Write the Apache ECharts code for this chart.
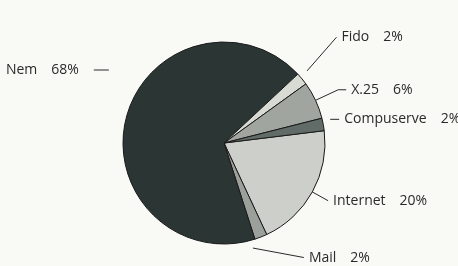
<!DOCTYPE html>
<html><head><meta charset="utf-8">
<script src="https://cdn.jsdelivr.net/npm/echarts@6/dist/echarts.min.js"></script>
<style>html,body{margin:0;padding:0;background:#f9f9f6}#c{width:458px;height:266px}</style>
</head><body><div id="c"></div>
<script>
// Data (clockwise from ~3 o'clock)
var categories = ['Internet', 'Mail', 'Nem', 'Fido', 'X.25', 'Compuserve'];
var values = [20, 2, 68, 2, 6, 2];

var colors = {
  'Internet': '#cdd0ca', 'Mail': '#9ba09a', 'Nem': '#2b3634',
  'Fido': '#d8dad4', 'X.25': '#a0a59f', 'Compuserve': '#616c68'
};
var lineCfg = {
  'Internet': [18, 0], 'Mail': [22, 35], 'Nem': [18, 15],
  'Fido': [42, 0], 'X.25': [25, 8], 'Compuserve': [6, 10]
};

var data = categories.map(function (n, i) {
  return {
    name: n, value: values[i],
    itemStyle: { color: colors[n] },
    labelLine: { length: lineCfg[n][0], length2: lineCfg[n][1] }
  };
});

var chart = echarts.init(document.getElementById('c'));
chart.setOption({
  backgroundColor: '#f9f9f6',
  animation: false,
  series: [{
    type: 'pie',
    center: [224, 143],
    radius: 101,
    startAngle: 7,
    clockwise: true,
    avoidLabelOverlap: false,
    data: data,
    itemStyle: { borderColor: '#1a1a1a', borderWidth: 1 },
    label: {
      show: true, position: 'outside',
      formatter: '{b}\u2003{c}%',
      fontFamily: 'Open Sans', fontSize: 14, color: '#2a2a2a'
    },
    labelLine: { show: true, lineStyle: { color: '#2a2a2a', width: 1 } },
    labelLayout: function (p) {
      var pts = p.labelLinePoints;
      if (!pts) return {};
      var n = categories[p.dataIndex];
      if (n === 'Nem') {
        var dy = -43;
        return {
          dy: dy, dx: -10,
          labelLinePoints: [[pts[1][0], pts[1][1] + dy], [pts[2][0], pts[2][1] + dy]]
        };
      }
      if (n === 'Fido') {
        return {
          dy: -15, dx: 2,
          labelLinePoints: [[pts[0][0] + 5, pts[0][1] - 8], [pts[2][0] + 2, pts[2][1] - 15]]
        };
      }
      if (n === 'Compuserve') {
        return {
          dy: -4,
          labelLinePoints: [[pts[1][0] + 1, pts[1][1] - 4], [pts[2][0], pts[2][1] - 4]]
        };
      }
      if (n === 'Mail') {
        return { labelLinePoints: [[pts[0][0] - 8, pts[0][1] + 11], pts[2]] };
      }
      return {};
    }
  }]
});
</script></body></html>
